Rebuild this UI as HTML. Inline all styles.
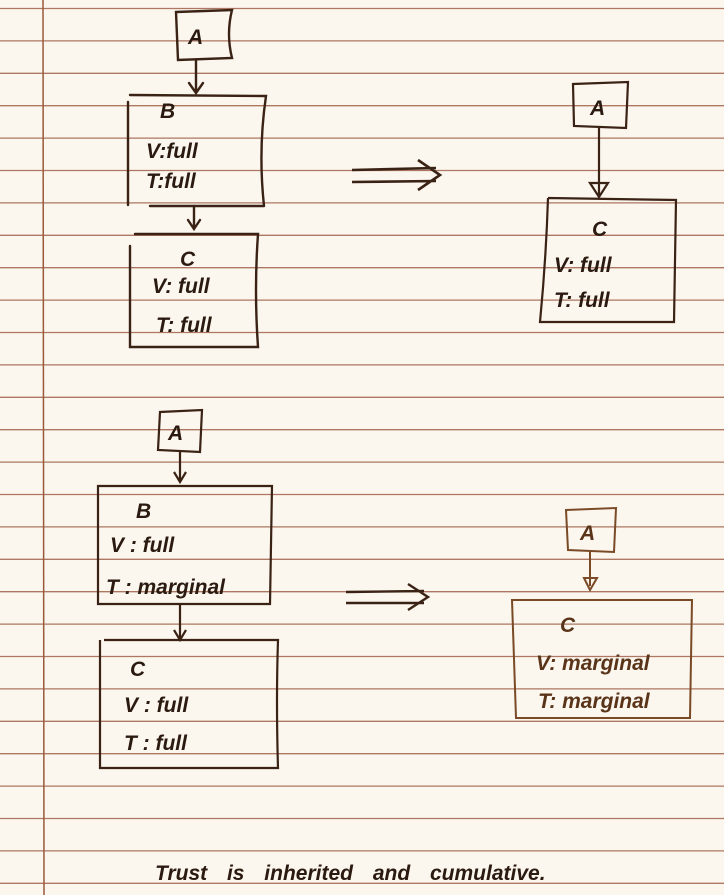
<!DOCTYPE html>
<html><head><meta charset="utf-8"><style>
html,body{margin:0;padding:0;background:#fbf6ee;}
svg{display:block}
text{font-family:"Liberation Sans",sans-serif;font-style:italic;font-weight:600;}
</style></head><body>
<svg width="724" height="895" viewBox="0 0 724 895">
<rect width="724" height="895" fill="#fbf6ee"/>
<g id="rules" stroke="#a0624a" stroke-width="1.3" opacity="0.85"></g>
<line x1="43" y1="0" x2="44" y2="895" stroke="#9a5a3a" stroke-width="1.5"/>

<g stroke="#3a2214" fill="none" stroke-width="2.4" stroke-linecap="round">
<path d="M176 12 L232 10 Q226 34 232 58 L178 60 Z"/>
<path d="M196 60 V92 M189 83 L196 93 L203 83"/>
<path d="M130 95 L266 96 Q258 150 264 206 M128 102 V205 M150 206 L264 206"/>
<path d="M194 206 V228 M188 220 L194 229 L200 220"/>
<path d="M135 234 L258 234 Q254 290 258 347 L130 347 V246"/>
</g>
<g fill="#2a1a10" font-size="21">
<text x="188" y="44">A</text>
<text x="160" y="118">B</text>
<text x="146" y="158">V:full</text>
<text x="146" y="188">T:full</text>
<text x="180" y="266">C</text>
<text x="152" y="293">V: full</text>
<text x="156" y="332">T: full</text>
</g>
<path d="M352 170 L436 168 M352 182 L436 181 M418 160 L440 175 L418 190" stroke="#3a2214" stroke-width="2.6" fill="none"/>

<g stroke="#3a2214" fill="none" stroke-width="2.2">
<path d="M573 84 L628 82 L626 128 L574 126 Z"/>
<path d="M599 127 V196 M590 183 L599 197 L608 183 Z"/>
<path d="M548 198 L676 200 L674 322 L540 322 Q546 260 548 198"/>
</g>
<g fill="#2a1a10" font-size="21">
<text x="590" y="115">A</text>
<text x="592" y="236">C</text>
<text x="554" y="272">V: full</text>
<text x="554" y="307">T: full</text>
</g>

<g stroke="#3a2214" fill="none" stroke-width="2.2">
<path d="M160 412 L202 410 L200 452 L158 450 Z"/>
<path d="M180 452 V480 M174 472 L180 482 L186 472"/>
<path d="M98 486 L272 486 L270 604 L98 604 Z"/>
<path d="M180 605 V638 M174 630 L180 640 L186 630"/>
<path d="M104 640 L278 640 Q276 700 278 768 L100 768 V640"/>
</g>
<g fill="#2a1a10" font-size="21">
<text x="168" y="440">A</text>
<text x="136" y="518">B</text>
<text x="110" y="552">V : full</text>
<text x="106" y="594">T : marginal</text>
<text x="130" y="676">C</text>
<text x="124" y="712">V : full</text>
<text x="124" y="750">T : full</text>
</g>
<path d="M346 592 L424 591 M346 603 L424 603 M408 584 L428 597 L408 610" stroke="#3a2214" stroke-width="2.4" fill="none"/>

<g stroke="#7a4a26" fill="none" stroke-width="2">
<path d="M566 510 L616 508 L614 552 L568 550 Z"/>
<path d="M590 550 V586 M584 578 L590 590 L597 578 Z"/>
<path d="M512 600 L692 600 L690 718 L516 718 Z"/>
</g>
<g fill="#5a3418" font-size="21">
<text x="580" y="540">A</text>
<text x="560" y="632">C</text>
<text x="536" y="670">V: marginal</text>
<text x="538" y="708">T: marginal</text>
</g>

<text x="155" y="880" font-size="21" fill="#2a1a10" word-spacing="14">Trust is inherited and cumulative.</text>
</svg>
<script>
const g=document.getElementById('rules');
for(let k=0;k<28;k++){const y=8.5+k*32.4;const l=document.createElementNS('http://www.w3.org/2000/svg','line');
l.setAttribute('x1',0);l.setAttribute('x2',724);l.setAttribute('y1',y);l.setAttribute('y2',y);


g.appendChild(l);}
</script>
</body></html>
